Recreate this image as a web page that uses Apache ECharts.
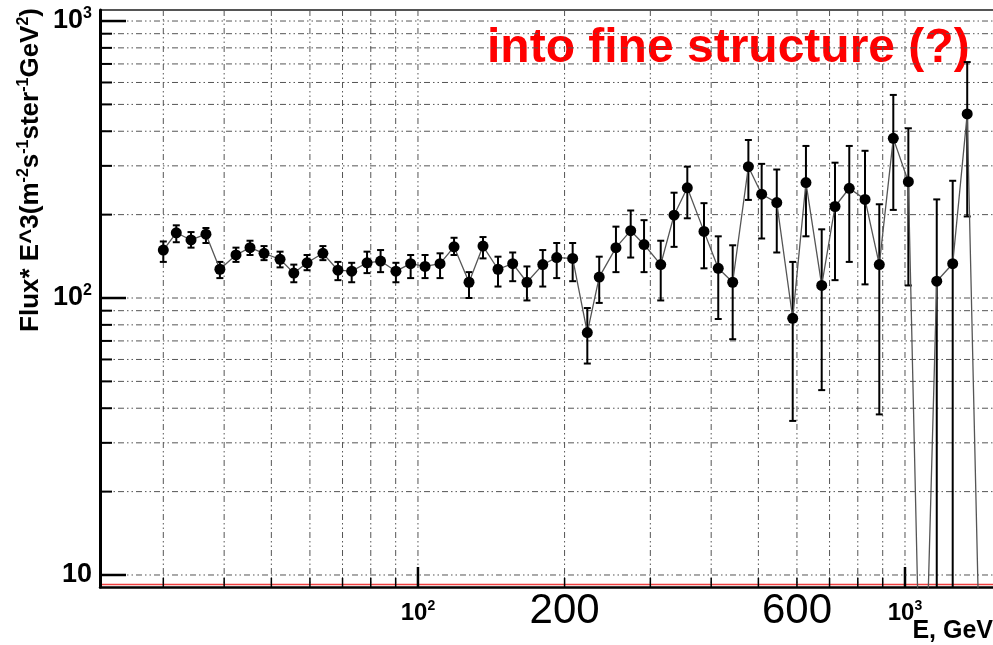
<!DOCTYPE html>
<html>
<head>
<meta charset="utf-8">
<script src="https://cdn.jsdelivr.net/npm/echarts@6/dist/echarts.min.js"></script>
<style>
  html, body { margin: 0; padding: 0; background: #fff; }
  #chart { width: 993px; height: 645px; }
</style>
</head>
<body>
<div id="chart"></div>
<script>
// energy bins (GeV)
const energy = [30.0, 31.9, 34.2, 36.7, 39.2, 42.3, 45.2, 48.3, 52.1, 55.6,
  59.2, 63.8, 68.5, 73.1, 78.6, 83.8, 90.1, 96.6, 103.4, 111.0,
  118.6, 127.3, 136.0, 146.0, 156.5, 167.4, 180.4, 192.7, 207.8, 222.7,
  235.6, 255.0, 273.4, 291.2, 315.1, 335.6, 357.3, 386.6, 413.6, 442.8,
  476.9, 507.8, 545.4, 588.1, 626.1, 674.5, 718.3, 768.4, 827.8, 885.6,
  946.2, 1016, 1086, 1162, 1253, 1342, 1440]
const flux = [149, 172, 162, 170, 127, 143, 152, 145, 138, 123,
  134, 145, 126, 125, 134, 136, 125, 133, 130, 133,
  153, 114, 154, 127, 133, 114, 132, 140, 139, 75,
  119, 152, 175, 156, 132, 199, 250, 174, 128, 114,
  298, 237, 221, 84.5, 261, 111, 214, 249, 227, 132,
  377, 263, 1.5, 115, 133, 462, 2]
const errLow = [135, 159, 152, 158, 118, 135, 143, 137, 129, 114,
  126, 137, 116, 114, 123, 124, 114, 118, 118, 118,
  143, 100, 139, 110, 115, 98, 110, 118, 115, 58,
  96, 124, 140, 124, 98, 153, 194, 128, 84, 71,
  226, 164, 146, 36, 167, 46.5, 116, 135, 112, 38,
  208, 111, null, 3, 3, 197, null]
const errHigh = [160, 183, 173, 179, 135, 152, 161, 154, 147, 132,
  143, 154, 135, 134, 147, 149, 134, 143, 143, 145,
  165, 124, 166, 141, 146, 130, 149, 158, 158, 92,
  141, 181, 207, 191, 161, 240, 298, 220, 167, 155,
  372, 305, 291, 135, 354, 177, 308, 354, 340, 218,
  541, 410, null, 227, 265, 711, null]

// axis ranges and grid ticks
const xMin = 22.24
const xMax = 1516
const yMin = 9.05
const yMax = 1096
const xGridTicks = [30, 40, 50, 60, 70, 80, 90, 100, 200, 300, 400, 500, 600, 700, 800, 900, 1000]
const yGridTicks = [10, 20, 30, 40, 50, 60, 70, 80, 90, 100, 200, 300, 400, 500, 600, 700, 800, 900, 1000]
const majorTicks = [10, 100, 1000]
const annotationValues = [200, 600]

const FONT = '"Liberation Sans", Arial, Helvetica, sans-serif'
const GRID_DASH = [6, 3, 1.5, 3, 1.5, 3]

const chart = echarts.init(document.getElementById('chart'))

function powerLabel(value) {
  const exp = Math.log10(value)
  if (Math.abs(exp - Math.round(exp)) > 1e-6) return ''
  const e = Math.round(exp)
  if (e === 1) return '{b|10}'
  return '{b|10}{s|' + e + '}'
}

function labelRich(size) {
  return {
    b: { fontFamily: FONT, fontWeight: 'bold', fontSize: size, color: '#000', lineHeight: size + 4 },
    s: { fontFamily: FONT, fontWeight: 'bold', fontSize: Math.round(size * 0.58), color: '#000', verticalAlign: 'top', lineHeight: 14 }
  }
}

function renderVGrid(params, api) {
  const cs = params.coordSys
  const v = api.value(0)
  const x = api.coord([v, yMin])[0]
  const bottom = cs.y + cs.height
  const major = majorTicks.includes(v)
  return {
    type: 'group',
    children: [
      { type: 'line', shape: { x1: x, y1: cs.y, x2: x, y2: bottom },
        style: { stroke: '#555', lineWidth: 1, lineDash: GRID_DASH } },
      { type: 'line', shape: { x1: x, y1: bottom, x2: x, y2: bottom - (major ? 20 : 9) },
        style: { stroke: '#000', lineWidth: major ? 2.5 : 1.5 } }
    ]
  }
}

function renderHGrid(params, api) {
  const cs = params.coordSys
  const v = api.value(1)
  const y = api.coord([xMin, v])[1]
  const major = majorTicks.includes(v)
  return {
    type: 'group',
    children: [
      { type: 'line', shape: { x1: cs.x, y1: y, x2: cs.x + cs.width, y2: y },
        style: { stroke: '#555', lineWidth: 1, lineDash: GRID_DASH } },
      { type: 'line', shape: { x1: cs.x, y1: y, x2: cs.x + (major ? 26 : 12), y2: y },
        style: { stroke: '#000', lineWidth: major ? 2.5 : 2 } }
    ]
  }
}

function renderErrorBar(params, api) {
  const cs = params.coordSys
  const bottom = cs.y + cs.height
  const hi = api.coord([api.value(0), api.value(2)])
  const lo = api.coord([api.value(0), api.value(1)])
  const x = hi[0]
  const yLo = Math.min(lo[1], bottom)
  const cap = 3.5
  const style = { stroke: '#000', lineWidth: 2 }
  const children = [
    { type: 'line', shape: { x1: x, y1: hi[1], x2: x, y2: yLo }, style },
    { type: 'line', shape: { x1: x - cap, y1: hi[1], x2: x + cap, y2: hi[1] }, style }
  ]
  if (lo[1] <= bottom) {
    children.push({ type: 'line', shape: { x1: x - cap, y1: yLo, x2: x + cap, y2: yLo }, style })
  }
  return { type: 'group', children }
}

const points = energy.map((e, i) => [e, flux[i]])
const errors = energy
  .map((e, i) => [e, errLow[i], errHigh[i]])
  .filter((d) => d[1] != null && d[2] != null)

const option = {
  animation: false,
  backgroundColor: '#fff',
  grid: { left: 100, right: 0, top: 10, bottom: 58, containLabel: false, outerBoundsMode: 'none' },
  xAxis: {
    type: 'log',
    min: xMin,
    max: xMax,
    axisLine: { show: true, onZero: false, lineStyle: { color: '#000', width: 2.5 } },
    axisTick: { show: false },
    splitLine: { show: false },
    axisLabel: { margin: 12, formatter: powerLabel, rich: labelRich(24), showMinLabel: false, showMaxLabel: false }
  },
  yAxis: {
    type: 'log',
    min: yMin,
    max: yMax,
    axisLine: { show: true, onZero: false, lineStyle: { color: '#000', width: 3 } },
    axisTick: { show: false },
    splitLine: { show: false },
    axisLabel: { margin: 8, formatter: powerLabel, rich: labelRich(27), showMinLabel: false, showMaxLabel: false }
  },
  series: [
    {
      type: 'custom',
      name: 'vgrid',
      silent: true,
      z: 1,
      clip: false,
      renderItem: renderVGrid,
      data: xGridTicks.map((v) => [v, yMin])
    },
    {
      type: 'custom',
      name: 'hgrid',
      silent: true,
      z: 1,
      clip: false,
      renderItem: renderHGrid,
      data: yGridTicks.map((v) => [xMin, v])
    },
    {
      type: 'custom',
      name: 'errors',
      z: 3,
      clip: true,
      renderItem: renderErrorBar,
      encode: { x: 0, y: [1, 2] },
      data: errors
    },
    {
      type: 'line',
      name: 'flux',
      z: 4,
      clip: true,
      data: points,
      symbol: 'circle',
      symbolSize: 11,
      itemStyle: { color: '#000' },
      lineStyle: { color: '#555', width: 1.3 }
    }
  ]
}

chart.setOption(option)

const annotations = annotationValues.map((v) => ({
  type: 'text',
  x: chart.convertToPixel({ xAxisIndex: 0 }, v),
  y: 611,
  style: { text: String(v), font: '42px ' + FONT, fill: '#000', align: 'center', verticalAlign: 'middle' }
}))

chart.setOption({
  graphic: [
    { type: 'line', shape: { x1: 100, y1: 10, x2: 993, y2: 10 }, style: { stroke: '#555', lineWidth: 2 } },
    { type: 'line', shape: { x1: 100, y1: 584.5, x2: 993, y2: 584.5 }, style: { stroke: '#f04040', lineWidth: 1.5 } },
    {
      type: 'text',
      x: 487,
      y: 49,
      style: { text: 'into fine structure (?)', font: 'bold 48px ' + FONT, fill: '#ff0000', align: 'left', verticalAlign: 'middle' }
    },
    ...annotations,
    {
      type: 'text',
      x: 993,
      y: 631,
      style: { text: 'E, GeV', font: 'bold 25px ' + FONT, fill: '#000', align: 'right', verticalAlign: 'middle' }
    },
    {
      type: 'text',
      x: 31,
      y: 8,
      rotation: Math.PI / 2,
      style: {
        text: '{n|Flux* E^3(m}{s|-2}{n|s}{s|-1}{n|ster}{s|-1}{n|GeV}{s|2}{n|)}',
        align: 'right',
        verticalAlign: 'middle',
        rich: {
          n: { font: 'bold 26px ' + FONT, fill: '#000', lineHeight: 30 },
          s: { font: 'bold 16px ' + FONT, fill: '#000', verticalAlign: 'top', lineHeight: 16 }
        }
      }
    }
  ]
})
</script>
</body>
</html>
